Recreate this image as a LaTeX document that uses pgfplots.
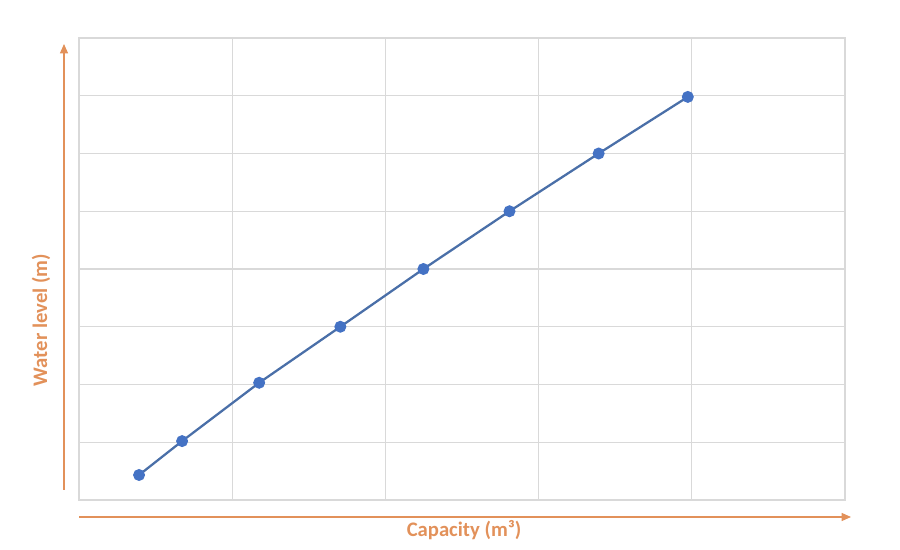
\documentclass[border=0pt]{standalone}
\usepackage{pgfplots}
\pgfplotsset{compat=1.18}
\usepackage{fontspec}
\setmainfont{Carlito}
\usetikzlibrary{arrows.meta}
\definecolor{axorange}{HTML}{E2915A}
\definecolor{serblue}{HTML}{4472C4}
\definecolor{linblue}{HTML}{4A6FA8}
\definecolor{gridgray}{HTML}{D9D9D9}
\begin{document}
\begin{tikzpicture}[x=0.75pt,y=0.75pt]
\useasboundingbox (0,0) rectangle (900,550);
\begin{axis}[
  at={(79pt*0.75,50pt*0.75)}, anchor=south west,
  scale only axis, width=574.5pt, height=346.5pt,
  xmin=0, xmax=5, ymin=0, ymax=8,
  xtick={0,1,2,3,4,5}, ytick={0,1,2,3,4,5,6,7,8},
  xticklabels={}, yticklabels={},
  major tick length=0pt,
  grid=major,
  major grid style={gridgray, line width=0.9pt},
  axis line style={gridgray, line width=1.2pt},
  clip=false,
]
\addplot[linblue, line width=1.7pt, mark=*, mark size=3.6pt,
  mark options={fill=serblue, draw=serblue}]
  coordinates {(0.392,0.433) (0.673,1.02) (1.176,2.03) (1.706,3.0) (2.248,4.0) (2.810,5.0) (3.392,6.0) (3.974,6.98)};
\end{axis}
\draw[axorange, line width=0.9pt, -{Triangle[length=7pt,width=6pt]}] (64,60) -- (64,506);
\draw[axorange, line width=0.9pt, -{Triangle[length=7pt,width=6pt]}] (79,33) -- (851,33);
\node[axorange, font=\bfseries\fontsize{15.5}{18}\selectfont, rotate=90] at (41,230) {Water level (m)};
\node[axorange, font=\bfseries\fontsize{15.5}{18}\selectfont] at (464,20) {Capacity (m³)};
\end{tikzpicture}
\end{document}
